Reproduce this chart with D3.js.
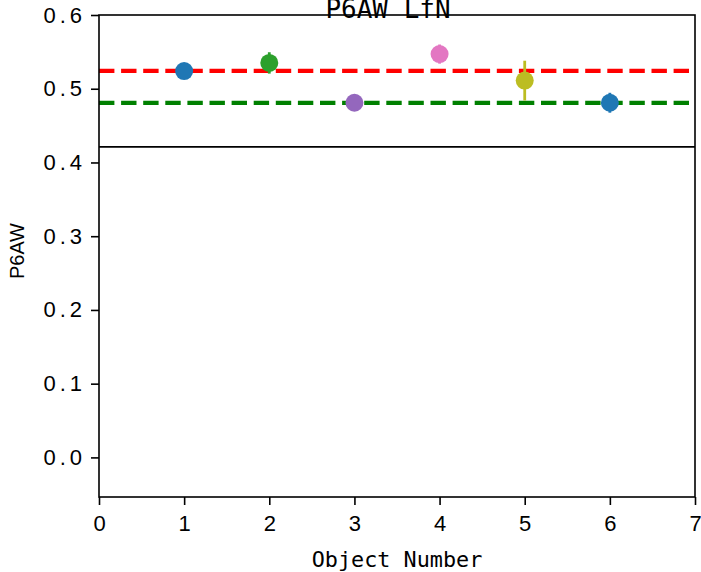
<!DOCTYPE html>
<html>
<head>
<meta charset="utf-8">
<script src="https://cdn.jsdelivr.net/npm/d3@7"></script>
<style>
  html, body { margin: 0; padding: 0; background: #fff; }
  svg { display: block; }
</style>
</head>
<body>
<svg id="chart" width="701" height="572"></svg>
<script>
// ---- data ----
const objectNumbers = [1, 2, 3, 4, 5, 6];
const p6awValues    = [0.524, 0.535, 0.481, 0.547, 0.511, 0.481];
const p6awErrors    = [0.004, 0.0145, 0.004, 0.013, 0.027, 0.0135];
const pointColors   = ["#1f77b4", "#2ca02c", "#9467bd", "#e377c2", "#bcbd22", "#1f77b4"];
const refLineValues = [0.5241, 0.4808];
const refLineColors = ["#ff0000", "#008000"];
const dividerValue  = 0.4211;
const xTicks = [0, 1, 2, 3, 4, 5, 6, 7];
const yTicks = [0.0, 0.1, 0.2, 0.3, 0.4, 0.5, 0.6];
const titleText = "P6AW LfN";
const xLabelText = "Object Number";
const yLabelText = "P6AW";

// ---- layout ----
const L = 99, R = 695, T = 15, B = 497;
const svg = d3.select("#chart");
const x = d3.scaleLinear().domain([0, 7]).range([L, R]);
const y = d3.scaleLinear().domain([-0.0537, 0.6]).range([B, T]);

const tickFont = "'Liberation Sans', Arial, sans-serif";
const monoFont = "'DejaVu Sans Mono', monospace";

// reference dashed lines
svg.selectAll("line.ref").data(refLineValues).join("line")
  .attr("class", "ref")
  .attr("x1", L).attr("x2", R)
  .attr("y1", d => y(d)).attr("y2", d => y(d))
  .attr("stroke", (d, i) => refLineColors[i])
  .attr("stroke-width", 4.2)
  .attr("stroke-dasharray", "15.4,6.7");

// divider line
svg.append("line")
  .attr("x1", L).attr("x2", R)
  .attr("y1", y(dividerValue)).attr("y2", y(dividerValue))
  .attr("stroke", "#000").attr("stroke-width", 1.6);

// error bars
svg.selectAll("line.err").data(objectNumbers).join("line")
  .attr("class", "err")
  .attr("x1", d => x(d)).attr("x2", d => x(d))
  .attr("y1", (d, i) => y(p6awValues[i] - p6awErrors[i]))
  .attr("y2", (d, i) => y(p6awValues[i] + p6awErrors[i]))
  .attr("stroke", (d, i) => pointColors[i])
  .attr("stroke-width", 2.8);

// markers
svg.selectAll("circle.pt").data(objectNumbers).join("circle")
  .attr("class", "pt")
  .attr("cx", d => x(d))
  .attr("cy", (d, i) => y(p6awValues[i]))
  .attr("r", 9)
  .attr("fill", (d, i) => pointColors[i]);

// axes
const xAxis = d3.axisBottom(x).tickValues(xTicks).tickFormat(d3.format("d")).tickSizeOuter(0).tickSize(8).tickPadding(10);
const yAxis = d3.axisLeft(y).tickValues(yTicks).tickFormat(d3.format(".1f")).tickSizeOuter(0).tickSize(8).tickPadding(9);

const gx = svg.append("g").attr("transform", `translate(0,${B})`).call(xAxis);
const gy = svg.append("g").attr("transform", `translate(${L},0)`).call(yAxis);
[gx, gy].forEach(g => {
  g.select(".domain").remove();
  g.selectAll(".tick line").attr("stroke", "#000").attr("stroke-width", 1.6);
  g.selectAll(".tick text").attr("fill", "#000")
    .style("font-family", tickFont).style("font-size", "22px");
});
gy.selectAll(".tick text").style("letter-spacing", "4px").attr("dx", "4px");

// frame
svg.append("rect")
  .attr("x", L).attr("y", T).attr("width", R - L).attr("height", B - T)
  .attr("fill", "none").attr("stroke", "#000").attr("stroke-width", 1.6);

// title (partly above the top edge, as in the reference)
svg.append("text")
  .attr("x", 388).attr("y", 18)
  .attr("text-anchor", "middle")
  .style("font-family", monoFont).style("font-size", "26px")
  .text(titleText);

// x label
svg.append("text")
  .attr("x", 397).attr("y", 567)
  .attr("text-anchor", "middle")
  .style("font-family", monoFont).style("font-size", "21.8px")
  .text(xLabelText);

// y label
svg.append("text")
  .attr("transform", "translate(24,251) rotate(-90)")
  .attr("text-anchor", "middle")
  .style("font-family", tickFont).style("font-size", "20px")
  .text(yLabelText);
</script>
</body>
</html>
